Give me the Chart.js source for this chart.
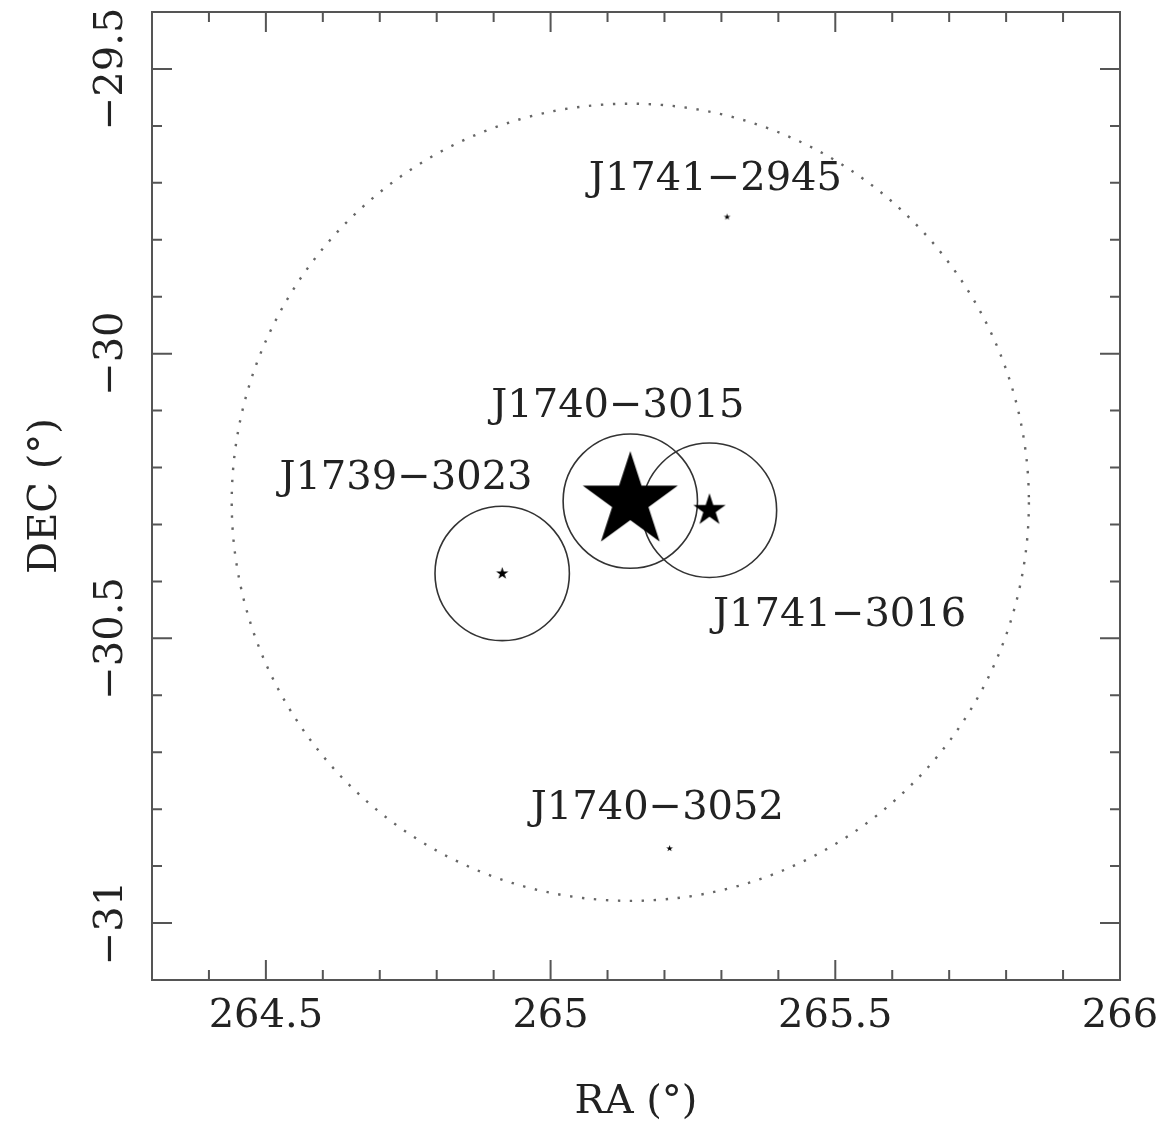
<!DOCTYPE html>
<html>
<head>
<meta charset="utf-8">
<script src="https://cdn.jsdelivr.net/npm/chart.js"></script>
<style>
  body { margin: 0; background: #fff; }
  #wrap { width: 1162px; height: 1127px; }
</style>
</head>
<body>
<div id="wrap"><canvas id="skyChart"></canvas></div>
<script>
// sources: name, RA and DEC in degrees
const names = ["J1741\u22122945", "J1740\u22123015", "J1741\u22123016", "J1739\u22123023", "J1740\u22123052"];
const ra = [265.310, 265.140, 265.279, 264.915, 265.209];
const dec = [-29.760, -30.259, -30.275, -30.386, -30.869];
// error circle radius (deg), 0 = none
const errRadius = [0, 0.118, 0.118, 0.118, 0];
// where each name is written (center x, baseline), in RA/DEC
const labelRa = [265.2895, 265.118, 264.746, 265.5076, 265.1875];
const labelDec = [-29.713, -30.112, -30.237, -30.478, -30.817];
const labelOrder = [0, 1, 3, 2, 4]; // label i belongs to source labelOrder[i]

// big dotted search circle round J1740-3015
const searchRa = 265.140;
const searchDec = -30.261;
const searchRadius = 0.70;

// axes
const xMajor = [264.5, 265, 265.5, 266];
const xTickLabels = ["264.5", "265", "265.5", "266"];
const yMajor = [-29.5, -30, -30.5, -31];
const yTickLabels = ["\u221229.5", "\u221230", "\u221230.5", "\u221231"];

// star marker radius in px (style only)
const starSize = [3.5, 50, 17, 6.5, 3.5];

const FONT = "DejaVu Serif";
const INK = "#222";
const FRAME = "#555";

function makeStar(R) {
  const c = document.createElement("canvas");
  const s = Math.ceil(2 * R + 4);
  c.width = c.height = s;
  const g = c.getContext("2d");
  g.translate(s / 2, s / 2);
  g.beginPath();
  for (let i = 0; i < 10; i++) {
    const r = i % 2 ? R * 0.382 : R;
    const a = -Math.PI / 2 + i * Math.PI / 5;
    g.lineTo(r * Math.cos(a), r * Math.sin(a));
  }
  g.closePath();
  g.fillStyle = "#000";
  g.fill();
  return c;
}

function isMajor(v, list) {
  return list.findIndex(m => Math.abs(v - m) < 1e-6);
}

// no automatic padding, the frame sits where layout.padding says
function noPad(s) {
  s.paddingLeft = s.paddingRight = s.paddingTop = s.paddingBottom = 0;
}

const points = ra.map((r, i) => ({ x: r, y: dec[i] }));

// circles, frame, inward ticks, y labels and source names
const skyPlugin = {
  id: "sky",
  beforeDatasetsDraw(chart) {
    const { ctx, scales: { x, y } } = chart;
    ctx.save();
    // error circles
    ctx.strokeStyle = "#333";
    ctx.lineWidth = 1.6;
    errRadius.forEach((r, i) => {
      if (!r) return;
      const cx = x.getPixelForValue(ra[i]);
      const cy = y.getPixelForValue(dec[i]);
      const pr = Math.abs(x.getPixelForValue(ra[i] + r) - cx);
      ctx.beginPath();
      ctx.arc(cx, cy, pr, 0, Math.PI * 2);
      ctx.stroke();
    });
    // dotted search circle
    const sx = x.getPixelForValue(searchRa);
    const sy = y.getPixelForValue(searchDec);
    const sr = Math.abs(x.getPixelForValue(searchRa + searchRadius) - sx);
    ctx.strokeStyle = "#666";
    ctx.lineWidth = 2.4;
    ctx.setLineDash([2.4, 9.6]);
    ctx.beginPath();
    ctx.arc(sx, sy, sr, 0, Math.PI * 2);
    ctx.stroke();
    ctx.restore();
  },
  afterDraw(chart) {
    const { ctx, chartArea: a, scales: { x, y } } = chart;
    ctx.save();
    ctx.strokeStyle = FRAME;
    ctx.lineWidth = 2;
    ctx.strokeRect(a.left, a.top, a.right - a.left, a.bottom - a.top);
    ctx.beginPath();
    x.ticks.forEach(t => {
      const px = x.getPixelForValue(t.value);
      const len = isMajor(t.value, xMajor) >= 0 ? 20 : 10;
      ctx.moveTo(px, a.bottom); ctx.lineTo(px, a.bottom - len);
      ctx.moveTo(px, a.top); ctx.lineTo(px, a.top + len);
    });
    y.ticks.forEach(t => {
      const py = y.getPixelForValue(t.value);
      const len = isMajor(t.value, yMajor) >= 0 ? 20 : 10;
      ctx.moveTo(a.left, py); ctx.lineTo(a.left + len, py);
      ctx.moveTo(a.right, py); ctx.lineTo(a.right - len, py);
    });
    ctx.stroke();

    // rotated y tick labels
    ctx.fillStyle = INK;
    ctx.font = "40px '" + FONT + "'";
    ctx.textAlign = "center";
    ctx.textBaseline = "alphabetic";
    yMajor.forEach((v, i) => {
      const py = y.getPixelForValue(v);
      ctx.save();
      ctx.translate(a.left - 30, py);
      ctx.rotate(-Math.PI / 2);
      ctx.fillText(yTickLabels[i], 0, 0);
      ctx.restore();
    });

    // source names
    labelOrder.forEach((src, i) => {
      ctx.fillText(names[src], x.getPixelForValue(labelRa[i]), y.getPixelForValue(labelDec[i]));
    });
    ctx.restore();
  }
};

new Chart(document.getElementById("skyChart"), {
  type: "scatter",
  data: {
    datasets: [{
      data: points,
      pointStyle: starSize.map(makeStar),
      pointRadius: starSize,
      pointHoverRadius: starSize,
      backgroundColor: "#000",
      borderColor: "#000"
    }]
  },
  options: {
    responsive: true,
    maintainAspectRatio: false,
    devicePixelRatio: 1,
    animation: false,
    layout: { autoPadding: false, padding: { left: 0, top: 12, right: 42, bottom: 0 } },
    plugins: { legend: { display: false }, tooltip: { enabled: false } },
    scales: {
      x: {
        type: "linear",
        position: "bottom",
        min: 264.3,
        max: 266.0,
        grid: { display: false, drawTicks: false },
        border: { display: false },
        ticks: {
          stepSize: 0.1,
          autoSkip: false,
          maxRotation: 0,
          padding: 13,
          color: INK,
          font: { family: FONT, size: 40 },
          callback: v => {
            const k = isMajor(v, xMajor);
            return k >= 0 ? xTickLabels[k] : "";
          }
        },
        title: {
          display: true,
          text: "RA (\u00b0)",
          color: INK,
          font: { family: FONT, size: 40 },
          padding: { top: 37, bottom: 0 }
        },
        afterFit: s => { s.height = 147; noPad(s); }
      },
      y: {
        type: "linear",
        min: -31.1,
        max: -29.4,
        grid: { display: false, drawTicks: false },
        border: { display: false },
        ticks: { stepSize: 0.1, display: false },
        title: {
          display: true,
          text: "DEC (\u00b0)",
          color: INK,
          font: { family: FONT, size: 40 },
          padding: { top: 22, bottom: 0 }
        },
        afterFit: s => { s.width = 152; noPad(s); }
      }
    }
  },
  plugins: [skyPlugin]
});
</script>
</body>
</html>
